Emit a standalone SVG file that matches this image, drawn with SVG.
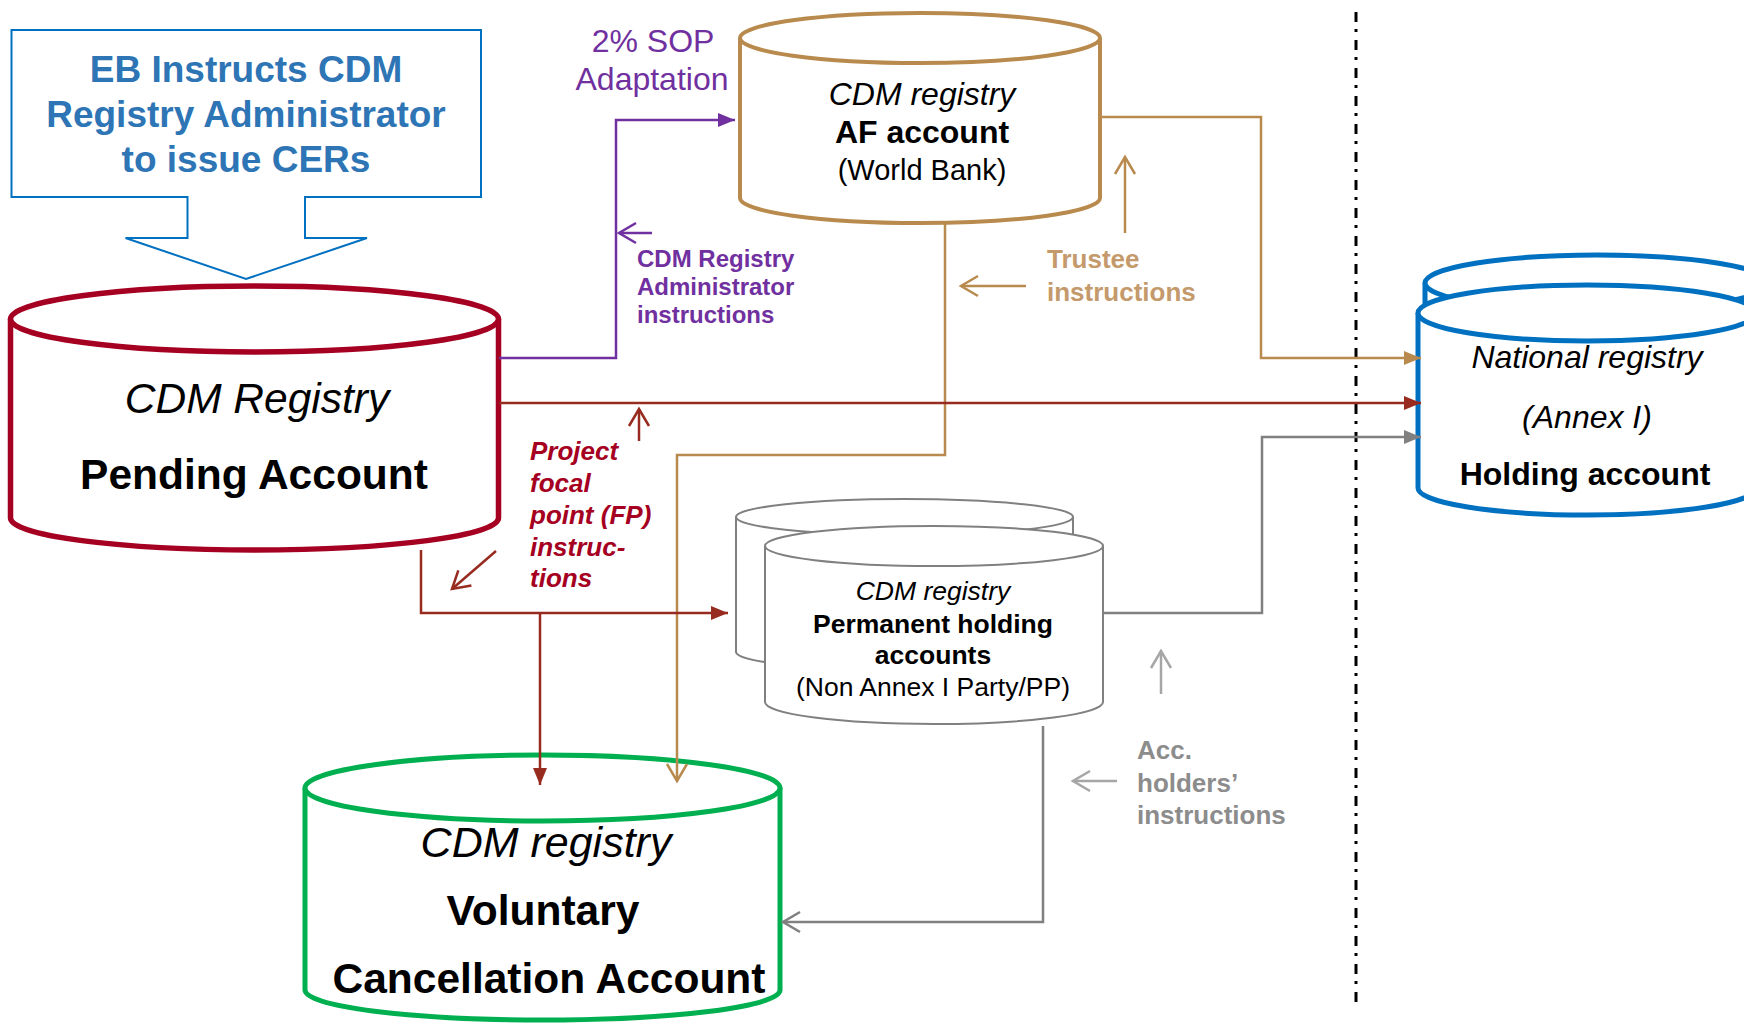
<svg xmlns="http://www.w3.org/2000/svg" width="1744" height="1025" viewBox="0 0 1744 1025">
<style>
text{font-family:"Liberation Sans",Arial,sans-serif}
.c{text-anchor:middle}
.b{font-weight:bold}
.i{font-style:italic}
.cyl{fill:#fff}
.ln{fill:none;stroke-width:2.5}
</style>
<defs>
<marker id="fPur" markerUnits="userSpaceOnUse" markerWidth="18" markerHeight="16" refX="17" refY="8" orient="auto" viewBox="0 0 18 16"><path d="M0,1 L17,8 L0,15 z" fill="#7030A0"/></marker>
<marker id="fTan" markerUnits="userSpaceOnUse" markerWidth="18" markerHeight="16" refX="17" refY="8" orient="auto" viewBox="0 0 18 16"><path d="M0,1 L17,8 L0,15 z" fill="#B98A4E"/></marker>
<marker id="fRed" markerUnits="userSpaceOnUse" markerWidth="18" markerHeight="16" refX="17" refY="8" orient="auto" viewBox="0 0 18 16"><path d="M0,1 L17,8 L0,15 z" fill="#972B1F"/></marker>
<marker id="fGry" markerUnits="userSpaceOnUse" markerWidth="18" markerHeight="16" refX="17" refY="8" orient="auto" viewBox="0 0 18 16"><path d="M0,1 L17,8 L0,15 z" fill="#808080"/></marker>
<marker id="oPur" markerUnits="userSpaceOnUse" markerWidth="22" markerHeight="24" refX="19" refY="12" orient="auto" viewBox="0 0 22 24"><path d="M2,2 L19,12 L2,22" fill="none" stroke="#7030A0" stroke-width="2.5"/></marker>
<marker id="oTan" markerUnits="userSpaceOnUse" markerWidth="22" markerHeight="24" refX="19" refY="12" orient="auto" viewBox="0 0 22 24"><path d="M2,2 L19,12 L2,22" fill="none" stroke="#B98A4E" stroke-width="2.5"/></marker>
<marker id="oRed" markerUnits="userSpaceOnUse" markerWidth="22" markerHeight="24" refX="19" refY="12" orient="auto" viewBox="0 0 22 24"><path d="M2,2 L19,12 L2,22" fill="none" stroke="#972B1F" stroke-width="2.5"/></marker>
<marker id="oGry" markerUnits="userSpaceOnUse" markerWidth="22" markerHeight="24" refX="19" refY="12" orient="auto" viewBox="0 0 22 24"><path d="M2,2 L19,12 L2,22" fill="none" stroke="#808080" stroke-width="2.5"/></marker>
<marker id="oLgy" markerUnits="userSpaceOnUse" markerWidth="22" markerHeight="24" refX="19" refY="12" orient="auto" viewBox="0 0 22 24"><path d="M2,2 L19,12 L2,22" fill="none" stroke="#A6A6A6" stroke-width="2.5"/></marker>
</defs>
<rect width="1744" height="1025" fill="#fff"/>

<!-- divider -->
<line x1="1356" y1="12" x2="1356" y2="1006" stroke="#000" stroke-width="3" stroke-dasharray="10 7 3 8"/>

<!-- EB callout -->
<g id="eb-callout">
<path d="M11.5,30 H481 V197 H305 V238 H367 L246,279 L125.5,238 H187.5 V197 H11.5 Z" fill="#fff" stroke="#0070C0" stroke-width="2"/>
<g class="b c" fill="#2E75B6" font-size="37">
<text x="246" y="82">EB Instructs CDM</text>
<text x="246" y="127">Registry Administrator</text>
<text x="246" y="172">to issue CERs</text>
</g>
</g>

<!-- Pending account -->
<g id="pending">
<path class="cyl" d="M10.5,319 V518 A244,32 0 0 0 498.5,518 V319" stroke="#A50021" stroke-width="5.5"/>
<ellipse cx="254.5" cy="319" rx="244" ry="33" fill="#fff" stroke="#A50021" stroke-width="5.5"/>
<text class="c i" x="257" y="413" font-size="42.5">CDM Registry</text>
<text class="c b" x="254" y="489" font-size="42.5">Pending Account</text>
</g>

<!-- AF account -->
<g id="af">
<path class="cyl" d="M740,38 V198 A180,25 0 0 0 1100,198 V38" stroke="#B98A4E" stroke-width="4"/>
<ellipse cx="920" cy="38" rx="180" ry="25" fill="#fff" stroke="#B98A4E" stroke-width="4"/>
<text class="c i" x="922" y="105" font-size="32">CDM registry</text>
<text class="c b" x="922" y="143" font-size="32">AF account</text>
<text class="c" x="922" y="180" font-size="29">(World Bank)</text>
</g>

<!-- Permanent holding accounts -->
<g id="permanent">
<path class="cyl" d="M736,517 V652 A168.5,18 0 0 0 1073,652 V517" stroke="#808080" stroke-width="2"/>
<ellipse cx="904.5" cy="517" rx="168.5" ry="18" fill="#fff" stroke="#808080" stroke-width="2"/>
<path class="cyl" d="M765,546 V702 A169,22 0 0 0 1103,702 V546" stroke="#808080" stroke-width="2"/>
<ellipse cx="934" cy="546" rx="169" ry="20" fill="#fff" stroke="#808080" stroke-width="2"/>
<text class="c i" x="933" y="600" font-size="26.5">CDM registry</text>
<text class="c b" x="933" y="633" font-size="26.5">Permanent holding</text>
<text class="c b" x="933" y="664" font-size="26.5">accounts</text>
<text class="c" x="933" y="696" font-size="26.5">(Non Annex I Party/PP)</text>
</g>

<!-- Voluntary cancellation -->
<g id="voluntary">
<path class="cyl" d="M305,788 V990 A237.5,30 0 0 0 780,990 V788" stroke="#00B050" stroke-width="5"/>
<ellipse cx="542.5" cy="788" rx="237.5" ry="33" fill="#fff" stroke="#00B050" stroke-width="5"/>
<text class="c i" x="546" y="857" font-size="43">CDM registry</text>
<text class="c b" x="543" y="925" font-size="42.5">Voluntary</text>
<text class="c b" x="549" y="993" font-size="42.5">Cancellation Account</text>
</g>

<!-- National registry -->
<g id="national">
<path class="cyl" d="M1425,283 V420 A172,28 0 0 0 1769,420 V283" stroke="#0070C0" stroke-width="5"/>
<ellipse cx="1597" cy="283" rx="172" ry="28" fill="#fff" stroke="#0070C0" stroke-width="5"/>
<path class="cyl" d="M1418,313 V488 A169,27 0 0 0 1756,488 V313" stroke="#0070C0" stroke-width="5"/>
<ellipse cx="1587" cy="313" rx="169" ry="28" fill="#fff" stroke="#0070C0" stroke-width="5"/>
<text class="c i" x="1587" y="368" font-size="32">National registry</text>
<text class="c i" x="1587" y="428" font-size="32">(Annex I)</text>
<text class="c b" x="1585" y="485" font-size="32">Holding account</text>
</g>

<!-- connectors -->
<g id="connectors">
<path class="ln" stroke="#7030A0" d="M499,358 H616 V120 H735" marker-end="url(#fPur)"/>
<path class="ln" stroke="#7030A0" d="M652,233 H619" marker-end="url(#oPur)"/>
<path class="ln" stroke="#B98A4E" d="M1100,117 H1261 V358 H1421" marker-end="url(#fTan)"/>
<path class="ln" stroke="#B98A4E" d="M945,222 V455 H677 V781" marker-end="url(#oTan)"/>
<path class="ln" stroke="#B98A4E" d="M1026,286 H961" marker-end="url(#oTan)"/>
<path class="ln" stroke="#B98A4E" d="M1125,233 V157" marker-end="url(#oTan)"/>
<path class="ln" stroke="#972B1F" d="M499,403 H1421" marker-end="url(#fRed)"/>
<path class="ln" stroke="#972B1F" d="M421,550 V613 H728" marker-end="url(#fRed)"/>
<path class="ln" stroke="#972B1F" d="M540,613 V785" marker-end="url(#fRed)"/>
<path class="ln" stroke="#972B1F" d="M639,441 V409" marker-end="url(#oRed)"/>
<path class="ln" stroke="#972B1F" d="M496,551 L452,589" marker-end="url(#oRed)"/>
<path class="ln" stroke="#808080" d="M1103,613 H1262 V437 H1421" marker-end="url(#fGry)"/>
<path class="ln" stroke="#808080" d="M1043,726 V922 H783" marker-end="url(#oGry)"/>
<path class="ln" stroke="#A6A6A6" d="M1161,694 V651" marker-end="url(#oLgy)"/>
<path class="ln" stroke="#A6A6A6" d="M1117,781 H1073" marker-end="url(#oLgy)"/>
</g>

<!-- labels -->
<g id="label-sop" fill="#7030A0" font-size="32">
<text class="c" x="653" y="52">2% SOP</text>
<text class="c" x="652" y="90">Adaptation</text>
</g>
<g id="label-admin" class="b" fill="#7030A0" font-size="24">
<text x="637" y="267">CDM Registry</text>
<text x="637" y="295">Administrator</text>
<text x="637" y="323">instructions</text>
</g>
<g id="label-trustee" class="b" fill="#C49A6C" font-size="26">
<text x="1047" y="268">Trustee</text>
<text x="1047" y="301">instructions</text>
</g>
<g id="label-fp" class="b i" fill="#A50021" font-size="26">
<text x="530" y="460">Project</text>
<text x="530" y="492">focal</text>
<text x="530" y="524">point (FP)</text>
<text x="530" y="556">instruc-</text>
<text x="530" y="587">tions</text>
</g>
<g id="label-acc" class="b" fill="#8C8C8C" font-size="26">
<text x="1137" y="759">Acc.</text>
<text x="1137" y="792">holders’</text>
<text x="1137" y="824">instructions</text>
</g>
</svg>
